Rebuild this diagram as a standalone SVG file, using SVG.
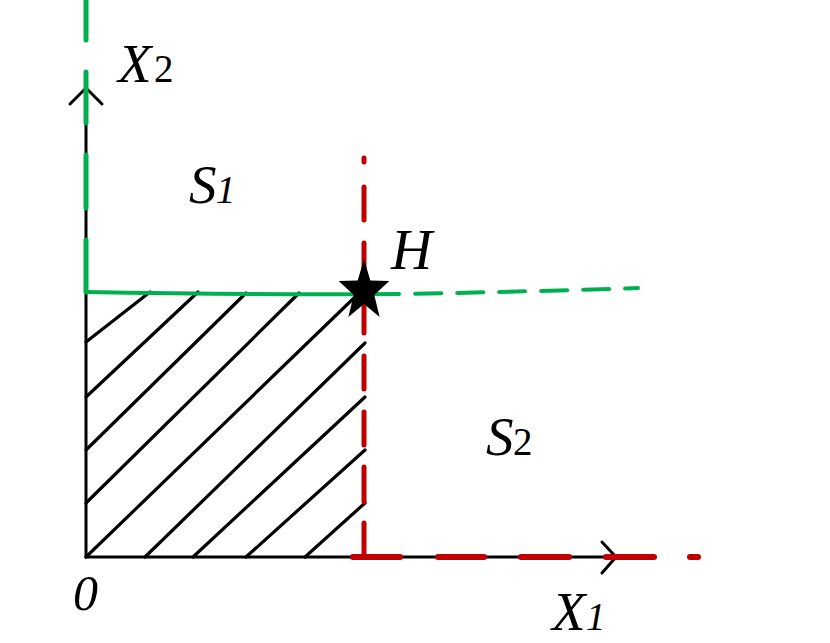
<svg xmlns="http://www.w3.org/2000/svg" width="830" height="643" viewBox="0 0 830 643">
<style>
.ax{stroke:#000;stroke-width:3;fill:none;stroke-linecap:round;stroke-linejoin:miter}
.hatch{stroke:#000;stroke-width:3.2;stroke-linecap:round}
.green{stroke:#00b050;stroke-width:5;fill:none;stroke-linecap:round}
.red{stroke:#c00000;stroke-width:5;fill:none;stroke-linecap:round}
.lbl{font-family:"Liberation Serif","Times New Roman",serif;font-style:italic;font-size:55px;fill:#000}
.sub{font-size:39px}
.up{font-style:normal}
</style>
<rect width="830" height="643" fill="#fff"/>
<g id="axes">
<line class="ax" x1="86" y1="90" x2="86" y2="557"/>
<line class="ax" x1="86" y1="557" x2="616" y2="557"/>
<polyline class="ax" points="70,104 86,88 102,104"/>
<polyline class="ax" points="602,542 616,557 602,573"/>
</g>
<g id="hatching">
<line class="hatch" x1="86" y1="342" x2="150" y2="292"/>
<line class="hatch" x1="86" y1="397" x2="198" y2="292"/>
<line class="hatch" x1="86" y1="450" x2="246" y2="293"/>
<line class="hatch" x1="86" y1="503" x2="299" y2="293"/>
<line class="hatch" x1="86" y1="557" x2="356" y2="296"/>
<line class="hatch" x1="145" y1="557" x2="365" y2="343"/>
<line class="hatch" x1="193" y1="557" x2="365" y2="397"/>
<line class="hatch" x1="246" y1="557" x2="365" y2="450"/>
<line class="hatch" x1="305" y1="557" x2="365" y2="503"/>
</g>
<g id="connectors">
<g id="green-boundary">
<line class="green" x1="86" y1="0" x2="86" y2="40"/>
<line class="green" x1="86" y1="72" x2="86" y2="123"/>
<line class="green" x1="86" y1="155" x2="86" y2="208"/>
<line class="green" x1="86" y1="240" x2="86" y2="292"/>
<path class="green" d="M86,292 Q250,295 398,294" style="stroke-width:4"/>
<path class="green" d="M398,294 Q520,292 638,288" style="stroke-width:4;stroke-dasharray:26 16;stroke-dashoffset:-17;stroke-linecap:round"/>
</g>
<g id="red-boundary">
<line class="red" x1="364" y1="158" x2="364" y2="162"/>
<line class="red" x1="364" y1="187" x2="364" y2="220"/>
<line class="red" x1="364" y1="243" x2="364" y2="333"/>
<line class="red" x1="364" y1="356" x2="364" y2="389"/>
<line class="red" x1="364" y1="412" x2="364" y2="445"/>
<line class="red" x1="364" y1="467" x2="364" y2="502"/>
<line class="red" x1="364" y1="523" x2="364" y2="557"/>
<line class="red" x1="353" y1="557" x2="400" y2="557" style="stroke-width:6"/>
<line class="red" x1="438" y1="557" x2="484" y2="557" style="stroke-width:6"/>
<line class="red" x1="521" y1="557" x2="569" y2="557" style="stroke-width:6"/>
<line class="red" x1="606" y1="557" x2="654" y2="557" style="stroke-width:6"/>
<line class="red" x1="690" y1="557" x2="698" y2="557" style="stroke-width:6"/>
</g>
</g>
<g id="point-H">
<polygon fill="#000" points="364,259 370.3,280.5 389.3,281.1 374.3,295 379.6,316.9 364,304 348.4,316.9 353.7,295 338.7,281.1 357.7,280.5"/>
<text class="lbl" x="391" y="269" style="font-size:57px">H</text>
</g>
<g id="label-X2"><text class="lbl" x="118" y="82">X<tspan class="sub up" x="154">2</tspan></text></g>
<g id="label-X1"><text class="lbl" x="552" y="630">X<tspan class="sub" x="586">1</tspan></text></g>
<g id="label-S1"><text class="lbl" x="189" y="203">S<tspan class="sub" x="216">1</tspan></text></g>
<g id="label-S2"><text class="lbl" x="486" y="455">S<tspan class="sub up" x="513">2</tspan></text></g>
<g id="label-O"><text class="lbl" x="73" y="610" style="font-size:50px">0</text></g>
</svg>
